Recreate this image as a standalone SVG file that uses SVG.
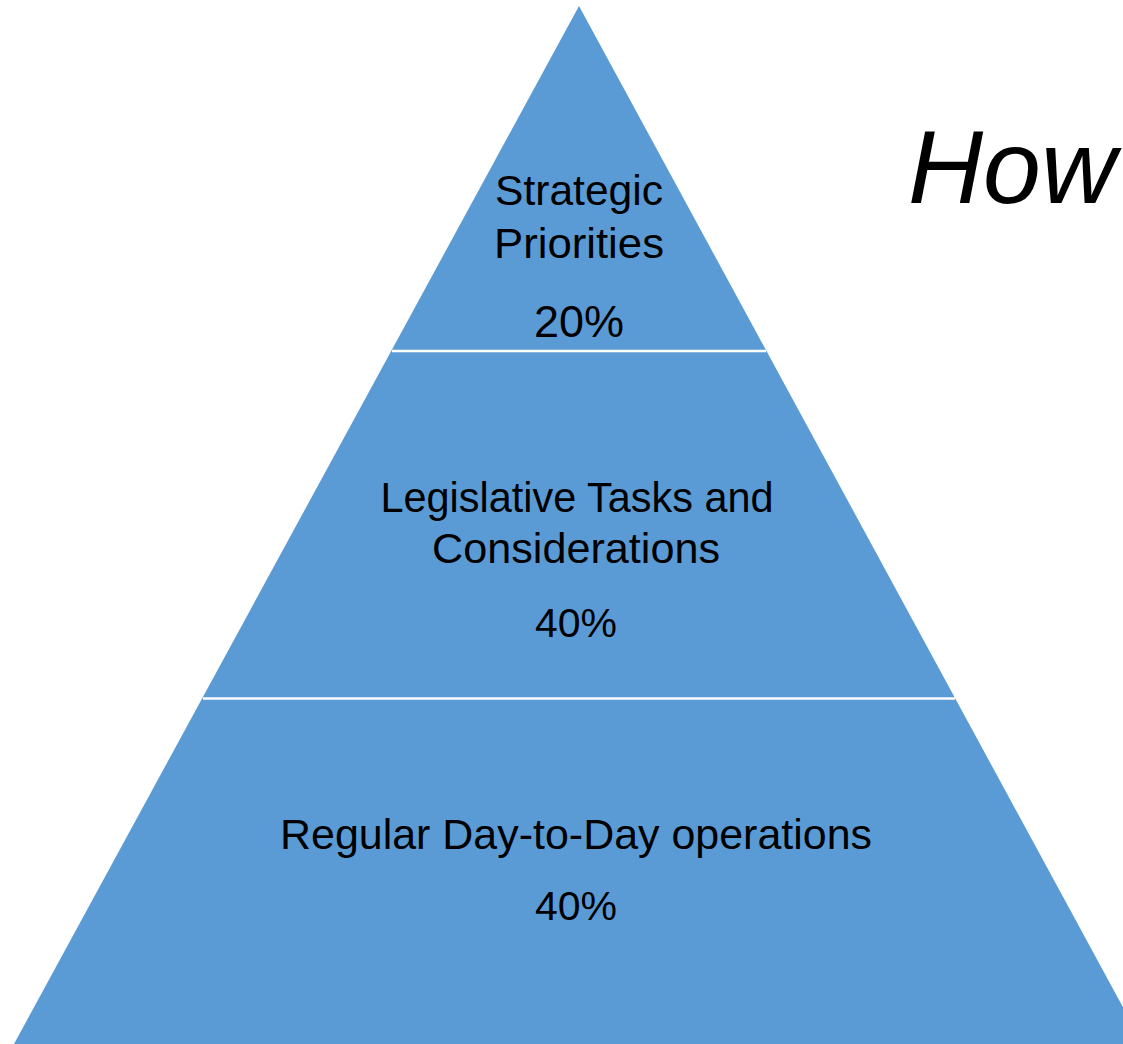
<svg xmlns="http://www.w3.org/2000/svg" width="1123" height="1044" viewBox="0 0 1123 1044">
<style>
.tier{fill:#5B9BD5;}
.div{stroke:#FFFFFF;stroke-width:2.5;}
.lbl{font-family:"Liberation Sans",Arial,sans-serif;font-size:42px;fill:#000;text-anchor:middle;}
.pct{font-family:"Liberation Sans",Arial,sans-serif;font-size:41px;fill:#000;text-anchor:middle;}
.title{font-family:"Liberation Sans",Arial,sans-serif;font-style:italic;font-size:104px;fill:#000;}
</style>
<rect width="1123" height="1044" fill="#FFFFFF"/>
<g id="pyramid">
<polygon class="tier" points="579,6 1143,1044 14,1044"/>
</g>
<g id="connectors">
<line class="div" x1="392" y1="351" x2="766" y2="351"/>
<line class="div" x1="203" y1="698.5" x2="955" y2="698.5"/>
</g>
<g id="tier-top">
<text class="lbl" x="579" y="205" textLength="168" lengthAdjust="spacingAndGlyphs">Strategic</text>
<text class="lbl" x="579" y="258" textLength="170" lengthAdjust="spacingAndGlyphs">Priorities</text>
<text class="pct" x="579" y="337" style="font-size:45px">20%</text>
</g>
<g id="tier-middle">
<text class="lbl" x="577" y="512" textLength="393" lengthAdjust="spacingAndGlyphs">Legislative Tasks and</text>
<text class="lbl" x="576" y="563" textLength="288" lengthAdjust="spacingAndGlyphs">Considerations</text>
<text class="pct" x="576" y="637">40%</text>
</g>
<g id="tier-bottom">
<text class="lbl" x="576" y="849" textLength="592" lengthAdjust="spacingAndGlyphs">Regular Day-to-Day operations</text>
<text class="pct" x="576" y="920">40%</text>
</g>
<g id="title">
<text class="title" x="908" y="203">How</text>
</g>
</svg>
